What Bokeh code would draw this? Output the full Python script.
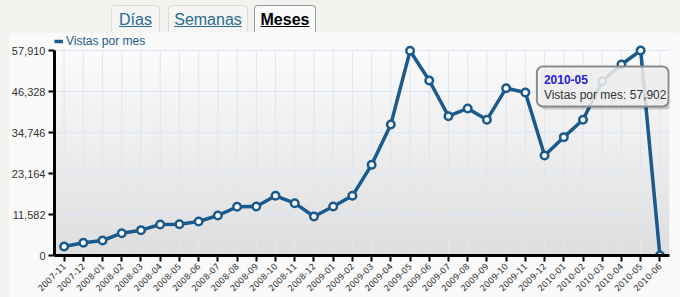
import numpy as np
from bokeh.plotting import figure
from bokeh.models import (Range1d, FixedTicker, NumeralTickFormatter, Legend, LegendItem,
                          BoxAnnotation, Label, Div, Spacer, ColumnDataSource)
from bokeh.layouts import column, row
from bokeh.embed import file_html
from bokeh.resources import INLINE

# ---------------- data ----------------
months = ["2007-11", "2007-12",
          "2008-01", "2008-02", "2008-03", "2008-04", "2008-05", "2008-06",
          "2008-07", "2008-08", "2008-09", "2008-10", "2008-11", "2008-12",
          "2009-01", "2009-02", "2009-03", "2009-04", "2009-05", "2009-06",
          "2009-07", "2009-08", "2009-09", "2009-10", "2009-11", "2009-12",
          "2010-01", "2010-02", "2010-03", "2010-04", "2010-05", "2010-06"]
views = [2540, 3580, 4240, 6310, 7160, 8760, 8850, 9600, 11300, 13750,
         13840, 16860, 14780, 11020, 13840, 16860, 25610, 37000, 57820, 49440,
         39360, 41530, 38330, 47270, 46050, 28250, 33430, 38330, 49250, 53960,
         57902, 0]
y_ticks = [0, 11582, 23164, 34746, 46328, 57910]
series_name = "Vistas por mes"
tabs = ["Días", "Semanas", "Meses"]
highlight = "2010-05"

BLUE = "#1b5a8d"
PAGE = "#f2f2ee"
PANEL = "#fafafa"
GRID = "#dbe6f7"

idx = list(range(len(months)))
src = ColumnDataSource(dict(x=idx, y=views, m=months))

PLOT_PX = 205     # pixel height of the value area
FRAME_PX = 223    # frame height (value area + room for the legend above it)
x_lo, x_hi = -0.5, len(months) - 0.5
y_lo, y_hi = 0, y_ticks[-1]
y_top = y_hi * FRAME_PX / PLOT_PX

p = figure(width=672, height=265, output_backend="svg", toolbar_location=None,
           x_range=Range1d(x_lo, x_hi), y_range=Range1d(y_lo, y_top),
           min_border_left=46, min_border_right=11, min_border_top=0, min_border_bottom=42,
           border_fill_color=PANEL, background_fill_color=PANEL,
           outline_line_color=None)

# vertical gradient background of the value area
n = 120
img = np.empty((n, 1), dtype=np.uint32)
view = img.view(dtype=np.uint8).reshape((n, 1, 4))
for i in range(n):
    c = int(round(222 + (251 - 222) * i / (n - 1)))
    view[i, 0, 0] = c
    view[i, 0, 1] = c
    view[i, 0, 2] = c
    view[i, 0, 3] = 255
p.image_rgba(image=[img], x=x_lo, y=y_lo, dw=x_hi - x_lo, dh=y_hi - y_lo, level="image")

# axes
p.xaxis.ticker = FixedTicker(ticks=idx)
p.xaxis.major_label_overrides = {i: m for i, m in zip(idx, months)}
p.xaxis.major_label_orientation = np.pi / 4
p.yaxis.ticker = FixedTicker(ticks=y_ticks)
p.yaxis.formatter = NumeralTickFormatter(format="0,0")
p.yaxis.bounds = (y_lo, y_hi)

for ax in (p.xaxis, p.yaxis):
    ax.axis_line_color = "black"
    ax.axis_line_width = 3
    ax.major_tick_line_color = "black"
    ax.major_tick_line_width = 2
    ax.major_tick_out = 6
    ax.major_tick_in = 0
    ax.minor_tick_line_color = None
    ax.major_label_text_color = "#333333"
p.yaxis.major_label_text_font = "Liberation Sans"
p.yaxis.major_label_text_font_size = "11px"
p.yaxis.major_label_standoff = 3
p.xaxis.major_label_text_font = "DejaVu Sans"
p.xaxis.major_label_text_font_size = "8.5px"
p.xaxis.major_label_standoff = 3

p.xgrid.visible = False
p.ygrid.grid_line_color = GRID
p.ygrid.grid_line_width = 1
# vertical grid lines limited to the value area
p.segment(x0=idx, y0=[y_lo] * len(idx), x1=idx, y1=[y_hi] * len(idx),
          line_color=GRID, line_width=1)

# series
line_r = p.line("x", "y", source=src, line_color=BLUE, line_width=3.5)
p.scatter("x", "y", source=src, size=7.5, fill_color="white", line_color=BLUE, line_width=2.5)

# legend just above the value area (location = legend bottom, px from frame bottom)
legend = Legend(items=[LegendItem(label=series_name, renderers=[line_r])],
                location=(0, 207), orientation="horizontal", padding=0, margin=0,
                border_line_color=None, background_fill_alpha=0,
                glyph_width=9, glyph_height=14, label_height=14, label_standoff=3,
                label_text_font_size="12px", label_text_color=BLUE,
                label_text_font="Liberation Sans")
p.add_layout(legend)

# static tooltip at highlighted point
hi = months.index(highlight)
hv = views[hi]
px_x = (x_hi - x_lo) / 615.0
px_y = (y_hi - y_lo) / PLOT_PX
bl, br = hi - 5.4, hi + 1.45
bt, bb = y_hi - 16 * px_y, y_hi - 56 * px_y
p.add_layout(BoxAnnotation(left=bl + 3 * px_x, right=br + 3 * px_x, top=bt - 3 * px_y, bottom=bb - 3 * px_y,
                           fill_color="black", fill_alpha=0.18, line_color=None, border_radius=6))
p.add_layout(BoxAnnotation(left=bl, right=br, top=bt, bottom=bb,
                           fill_color="#f4f4f4", fill_alpha=0.85, line_color="#8a8a8a",
                           line_width=2, line_alpha=1, border_radius=6))
p.add_layout(Label(x=bl, y=bt, x_offset=7, y_offset=-8, text=highlight,
                   text_font="Liberation Sans", text_font_size="12px", text_font_style="bold",
                   text_color="#2222dd", text_baseline="top"))
p.add_layout(Label(x=bl, y=bt, x_offset=7, y_offset=-21,
                   text=f"{series_name}: {hv:,}",
                   text_font="Liberation Sans", text_font_size="12px",
                   text_color="#333333", text_baseline="top"))

# tabs
def tab(left, width, label, active):
    if active:
        style = ("border:1px solid #9a9a9a;border-bottom:none;background:#fafafa;"
                 "color:#000;font-weight:bold;")
    else:
        style = "border:1px solid #dcdcd8;border-bottom:none;background:#f5f5f3;color:#2a6a96;"
    return (f'<div style="position:absolute;left:{left}px;top:5px;width:{width}px;height:27px;'
            f'box-sizing:border-box;border-radius:4px 4px 0 0;text-align:center;'
            f'font-family:\'Liberation Sans\';font-size:16px;line-height:27px;{style}">'
            f'<span style="text-decoration:underline;">{label}</span></div>')

tab_pos = [(111, 49), (168, 80), (254, 62)]
html = ('<div style="position:relative;width:680px;height:32px;background:%s;">' % PAGE
        + "".join(tab(l, w, t, t == "Meses") for (l, w), t in zip(tab_pos, tabs))
        + "</div>")
div = Div(text=html, width=680, height=32, margin=0, styles={"background-color": PAGE})

spacer = Spacer(width=8, height=265, margin=0)
r = row(spacer, p, margin=0, styles={"background-color": PAGE})
root = column(div, r, margin=0, styles={"background-color": PAGE})

open("out.html", "w").write(file_html(root, INLINE))
